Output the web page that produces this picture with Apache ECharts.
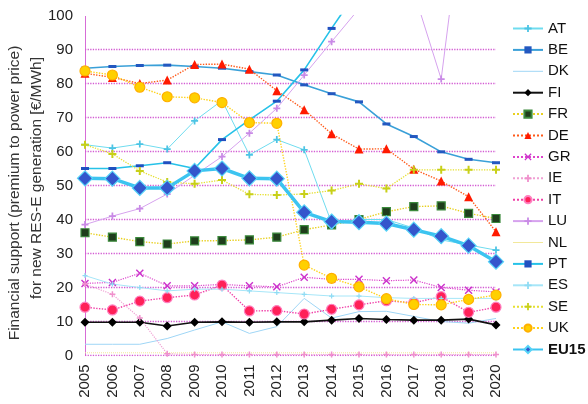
<!DOCTYPE html>
<html>
<head>
<meta charset="utf-8">
<script src="https://cdn.jsdelivr.net/npm/echarts@6/dist/echarts.min.js"></script>
<style>
  html, body { margin: 0; padding: 0; background: #fff; }
  #chart { width: 588px; height: 404px; }
</style>
</head>
<body>
<div id="chart"></div>
<script>
// Years on the category axis
const years = ['2005','2006','2007','2008','2009','2010','2011','2012','2013','2014','2015','2016','2017','2018','2019','2020'];

// Support level per country, €/MWh (values above 100 run off the top of the plot)
const AT   = [62, 61, 62.2, 60.7, 69, 75, 59, 63.5, 60.5, 39, 40, 40, 37.5, 34, 32.5, 31];
const BE   = [84.5, 85, 85.3, 85.4, 85, 84.5, 83.5, 82.5, 79.6, 77, 74.6, 68.1, 64.4, 59.9, 57.7, 56.7];
const DK   = [3.3, 3.3, 3.3, 5, 7.5, 9.9, 6.5, 8.5, 16.8, 11, 12.9, 13, 11.5, 10, 9.5, 10.9];
const FI   = [9.8, 9.8, 9.8, 8.7, 9.8, 9.9, 9.8, 9.9, 9.9, 10.4, 10.9, 10.6, 10.4, 10.4, 10.7, 9];
const FR   = [36.1, 34.8, 33.5, 32.8, 33.7, 33.8, 34, 34.8, 37, 38.4, 40, 42.3, 43.8, 44, 41.8, 40.3];
const DE   = [83, 81.8, 80, 81, 85.6, 85.7, 84.2, 77.9, 72.3, 65.2, 60.7, 60.8, 54.8, 51.3, 46.7, 36.4];
const GR   = [21.2, 21.5, 24.2, 20.5, 20.5, 20.9, 20.5, 20.2, 23, 22.4, 22.4, 22, 22.2, 20, 19.2, 18.7];
const IE   = [21, 18, 11, 0.5, 0.3, 0.3, 0.3, 0.3, 0.3, 0.3, 0.3, 0.3, 0.3, 0.3, 0.3, 0.3];
const IT   = [14.2, 13.4, 16, 17, 17.8, 20.7, 13.1, 13.2, 12.2, 13.6, 14.9, 16.1, 15.5, 17.3, 12.7, 14.2];
const LU   = [38.5, 41, 43.2, 47.5, 53, 58.5, 65.4, 72.7, 82.5, 92.3, 102, 110, 107, 81.3, 145, null];
const NL   = [0.8, 0.8, 0.8, 0.8, 0.8, 0.8, 0.8, 0.8, 0.8, 0.8, 0.8, 0.8, 0.8, 0.8, 0.8, 0.8];
const PT   = [55, 55, 55.8, 56.7, 55, 63.5, 69.3, 74.8, 84, 96.2, 108, null, null, null, null, null];
const ES   = [23.5, 21, 20, 19, 19.5, 19.5, 19, 18.5, 18, 17.5, 17.5, 17, 16.8, 16.8, 16.8, 16.8];
const SE   = [62, 59.3, 54.3, 51, 50.5, 51.6, 47.4, 47.2, 47.5, 48.5, 50.5, 49.1, 54.6, 54.6, 54.6, 54.6];
const UK   = [83.7, 82.5, 78.9, 76.1, 75.8, 74.4, 68.5, 68.3, 26.6, 22.7, 20.2, 16.7, 15, 14.9, 16.5, 17.8];
const EU15 = [52.1, 52, 49.3, 49.3, 54.3, 55, 52.1, 52, 42.1, 39.4, 39.2, 38.8, 37, 35.1, 32.3, 27.6];

// Y-axis ticks, and the levels that get a dotted horizontal guide
const yTicks = { min: 0, max: 100, step: 10 };
const guideLevels = [0, 10, 20, 30, 40, 50, 60, 70, 80, 90];

const FONT = "'Liberation Sans', Arial, sans-serif";
const PLUS = 'path://M3,0H5V3H8V5H5V8H3V5H0V3H3Z';
const CROSS = 'path://M0,1L1,0L4,3L7,0L8,1L5,4L8,7L7,8L4,5L1,8L0,7L3,4Z';
const BAR = 'path://M0,0H30V1H0Z';
const GUIDE_COLOR = '#d35cd3';

// Visual style per series
const styles = {
  AT:   { line: '#6fdcef', w: 1,   type: 'solid',  sym: PLUS,       size: 7,      fill: '#4cc4e4' },
  BE:   { line: '#3aa0d8', w: 1.6, type: 'solid',  sym: 'rect',     size: [8, 3], fill: '#2358c0' },
  DK:   { line: '#9fd6f6', w: 1,   type: 'solid',  sym: 'none' },
  FI:   { line: '#111111', w: 1.6, type: 'solid',  sym: 'diamond',  size: 9,      fill: '#000000' },
  FR:   { line: '#e8d020', w: 1.4, type: 'dotted', sym: 'rect',     size: 8,      fill: '#1f3d1c', border: '#3c8a3c' },
  DE:   { line: '#ff5a1a', w: 1.4, type: 'dotted', sym: 'triangle', size: 9,      fill: '#ff1a00' },
  GR:   { line: '#dd44cc', w: 1.2, type: 'dotted', sym: CROSS,      size: 8,      fill: '#cc33cc' },
  IE:   { line: '#f0a0d4', w: 1.2, type: 'dotted', sym: PLUS,       size: 6,      fill: '#f090cc' },
  IT:   { line: '#f040a8', w: 1.4, type: 'dotted', sym: 'circle',   size: 10,     fill: '#ff2058', border: '#ff80c0' },
  LU:   { line: '#d6a2ee', w: 1,   type: 'solid',  sym: PLUS,       size: 7,      fill: '#c98ae6' },
  NL:   { line: '#f2e89a', w: 1,   type: 'dotted', sym: 'none' },
  PT:   { line: '#26c2e8', w: 1.6, type: 'solid',  sym: 'rect',     size: [8, 3], fill: '#2050c0' },
  ES:   { line: '#a6e6f8', w: 1,   type: 'solid',  sym: PLUS,       size: 5,      fill: '#90dcf4' },
  SE:   { line: '#e6e030', w: 1.3, type: 'dotted', sym: PLUS,       size: 8,      fill: '#c8d018' },
  UK:   { line: '#ffd21a', w: 1.4, type: 'dotted', sym: 'circle',   size: 10,     fill: '#ffd000', border: '#ffb000' },
  EU15: { line: '#3cc4f0', w: 3.5, type: 'solid',  sym: 'diamond',  size: 15,     fill: '#3456cc', border: '#56d4f8' }
};

const seriesData = { AT, BE, DK, FI, FR, DE, GR, IE, IT, LU, NL, PT, ES, SE, UK, EU15 };
const names = Object.keys(seriesData);

// Horizontal dotted guides, one flat line per tick level, drawn behind the data
const guides = guideLevels.map(function (v) {
  return {
    name: 'guide-' + v,
    type: 'line',
    data: years.map(function () { return v; }),
    symbol: 'none',
    showSymbol: false,
    silent: true,
    lineStyle: { color: GUIDE_COLOR, width: 1.3, type: 'dotted' },
    emphasis: { disabled: true },
    tooltip: { show: false },
    animation: false,
    z: 1
  };
});

const countrySeries = names.map(function (n) {
  const s = styles[n];
  return {
    name: n,
    type: 'line',
    data: seriesData[n],
    clip: true,
    connectNulls: false,
    symbol: s.sym,
    symbolSize: s.size || 4,
    showSymbol: s.sym !== 'none',
    lineStyle: { color: s.line, width: s.w, type: s.type },
    itemStyle: {
      color: s.fill || s.line,
      borderColor: s.border || s.fill || s.line,
      borderWidth: s.border ? 1.2 : 0
    },
    emphasis: { disabled: true },
    animation: false,
    z: n === 'EU15' ? 5 : 2
  };
});

// Legend entries: plain-line series get a thin bar icon, EU15 label in bold
const legendData = names.map(function (n) {
  const item = { name: n };
  if (styles[n].sym === 'none') {
    item.icon = BAR;
    item.itemStyle = { color: styles[n].line };
  }
  if (n === 'EU15') item.textStyle = { fontWeight: 'bold' };
  return item;
});

const chart = echarts.init(document.getElementById('chart'), null, { renderer: 'canvas' });

chart.setOption({
  animation: false,
  grid: { left: 85, right: 92, top: 15.5, bottom: 48.5, containLabel: false, show: false },
  xAxis: {
    type: 'category',
    data: years,
    boundaryGap: false,
    axisLine: { show: false },
    axisTick: { show: false },
    axisLabel: { rotate: 90, fontSize: 15, color: '#222', fontFamily: FONT, margin: 9, interval: 0 },
    splitLine: { show: false }
  },
  yAxis: {
    type: 'value',
    min: yTicks.min,
    max: yTicks.max,
    interval: yTicks.step,
    axisLine: { show: true, onZero: false, lineStyle: { color: GUIDE_COLOR, type: 'dotted', width: 1 } },
    axisTick: { show: false },
    axisLabel: { fontSize: 15, color: '#222', fontFamily: FONT, margin: 12 },
    splitLine: { show: false }
  },
  legend: {
    orient: 'vertical',
    left: 512,
    top: 21,
    padding: 0,
    itemWidth: 30,
    itemHeight: 9,
    itemGap: 6.4,
    textStyle: { fontSize: 15, color: '#111', fontFamily: FONT },
    data: legendData,
    selectedMode: false
  },
  graphic: [
    {
      type: 'text', x: 15, y: 193, rotation: Math.PI / 2,
      style: { text: 'Financial support (premium to power price)', font: '15.5px ' + FONT, fill: '#333', align: 'center', verticalAlign: 'middle' }
    },
    {
      type: 'text', x: 36.5, y: 178, rotation: Math.PI / 2,
      style: { text: 'for new RES-E generation [€/MWh]', font: '15.5px ' + FONT, fill: '#333', align: 'center', verticalAlign: 'middle' }
    }
  ],
  series: guides.concat(countrySeries)
});
</script>
</body>
</html>
